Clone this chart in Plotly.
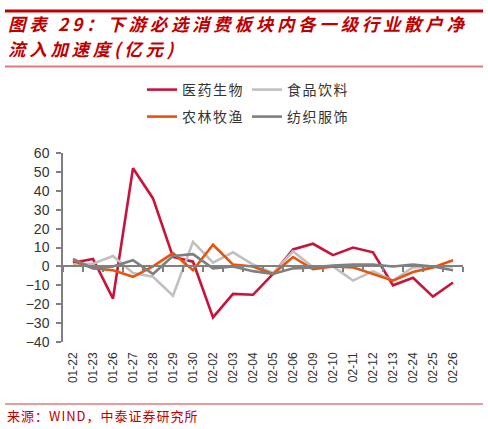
import plotly.graph_objects as go

categories = ["01-22", "01-23", "01-26", "01-27", "01-28", "01-29", "01-30", "02-02", "02-03", "02-04",
              "02-05", "02-06", "02-09", "02-10", "02-11", "02-12", "02-13", "02-24", "02-25", "02-26"]

pharma = [2, 4, -17, 52, 36, 5, 2.5, -27, -14.5, -15, -4, 9, 12, 6, 10, 7.5, -10, -6, -16, -8.5]
food = [1, 1.5, 5.5, -3.5, -5.5, -15.5, 13, 2, 7.5, 1, -3.5, 8, -0.5, 0, -7.5, -2.5, -7.5, -0.5, 0, 0]
agri = [3, -1, -2, -5.5, 0, 7, -2, 11.5, 1, 0, -4, 5, -1.5, 0, -0.5, -4, -7.5, -3, -0.5, 3.3]
textile = [4, -1, 0, 3.3, -4, 5.5, 6.5, -1, 0, -2.5, -4, -1, -0.5, 0.5, 1, 1, 0, 1, 0, -2]

series_names = ["医药生物", "食品饮料", "农林牧渔", "纺织服饰"]
series_values = [pharma, food, agri, textile]
series_colors = ["#C8143C", "#C0C0C0", "#E8520C", "#7F7F7F"]
series_legend = ["legend", "legend", "legend2", "legend2"]

W, H = 488, 429
L, R, T, B = 63, 463, 150, 342


def px_x(px):
    return (px - L) / (R - L)


def px_y(py):
    return (B - py) / (B - T)


fig = go.Figure()
for name, vals, col, lg in zip(series_names, series_values, series_colors, series_legend):
    fig.add_trace(go.Scatter(x=categories, y=vals, mode="lines",
                             name='<span style="letter-spacing:1.5px">' + name + "</span>",
                             line=dict(color=col, width=2.6), legend=lg))

# invisible trace to hold the zero-line axis
fig.add_trace(go.Scatter(x=categories, y=textile, xaxis="x2", mode="lines",
                         line=dict(width=0), opacity=0, showlegend=False, hoverinfo="skip"))

tick_font = dict(family="Arial, Liberation Sans, sans-serif", size=12, color="#333333")
legend_font = dict(family="Noto Sans CJK SC", size=14, color="#333333")

fig.update_layout(
    width=W, height=H,
    margin=dict(l=L, r=W - R, t=T, b=H - B),
    paper_bgcolor="white", plot_bgcolor="white",
    showlegend=True,
    xaxis=dict(type="category", categoryorder="array", categoryarray=categories,
               range=[-0.5, len(categories) - 0.5],
               showline=False, ticks="", showgrid=False, zeroline=False,
               tickangle=-90, tickfont=tick_font, ticklabelstandoff=7),
    xaxis2=dict(type="category", categoryorder="array", categoryarray=categories,
                range=[-0.5, len(categories) - 0.5],
                overlaying="x", anchor="free", position=0.4, side="bottom",
                showline=True, linecolor="#808080", linewidth=2,
                ticks="outside", tickson="boundaries", ticklen=5, tickcolor="#808080", tickwidth=1.5,
                showticklabels=False, showgrid=False, zeroline=False),
    yaxis=dict(range=[-40, 60], dtick=10, showgrid=False, zeroline=False,
               showline=True, linecolor="#808080", linewidth=1.5,
               ticks="outside", ticklen=5, tickcolor="#808080", tickwidth=1.5,
               tickfont=dict(family="Arial, Liberation Sans, sans-serif", size=14, color="#333333"),
               ticklabelstandoff=4),
    legend=dict(orientation="h", xref="container", yref="container",
                x=142 / W, y=1 - 90 / H, xanchor="left", yanchor="middle",
                entrywidth=60, entrywidthmode="pixels",
                font=legend_font, bgcolor="rgba(0,0,0,0)"),
    legend2=dict(orientation="h", xref="container", yref="container",
                 x=142 / W, y=1 - 117 / H, xanchor="left", yanchor="middle",
                 entrywidth=60, entrywidthmode="pixels",
                 font=legend_font, bgcolor="rgba(0,0,0,0)"),
)

title_font = dict(family="Noto Sans CJK SC", size=17.5, color="#C00000")
fig.add_annotation(text='<span style="letter-spacing:3.7px"><b><i>图表 29：下游必选消费板块内各一级行业散户净</i></b></span>',
                   xref="paper", yref="paper", x=px_x(6), y=px_y(18.5),
                   xanchor="left", yanchor="middle", align="left", showarrow=False, font=title_font)
fig.add_annotation(text='<span style="letter-spacing:3.7px"><b><i>流入加速度(亿元)</i></b></span>',
                   xref="paper", yref="paper", x=px_x(6), y=px_y(44),
                   xanchor="left", yanchor="middle", align="left", showarrow=False, font=title_font)
fig.add_annotation(text='<span style="letter-spacing:1px">来源：WIND，中泰证券研究所</span>',
                   xref="paper", yref="paper", x=px_x(5), y=px_y(417),
                   xanchor="left", yanchor="middle", showarrow=False,
                   font=dict(family="Noto Sans CJK SC", size=13, color="#C00000"))

fig.add_shape(type="line", xref="paper", yref="paper", x0=px_x(5), x1=px_x(483), y0=px_y(5.5), y1=px_y(5.5),
              line=dict(color="#C00000", width=3))
fig.add_shape(type="line", xref="paper", yref="paper", x0=px_x(5), x1=px_x(483), y0=px_y(62), y1=px_y(62),
              line=dict(color="#E07A7A", width=2))
fig.add_shape(type="line", xref="paper", yref="paper", x0=px_x(5), x1=px_x(483), y0=px_y(405), y1=px_y(405),
              line=dict(color="#E07A7A", width=1.5))

fig.write_html("out.html")
